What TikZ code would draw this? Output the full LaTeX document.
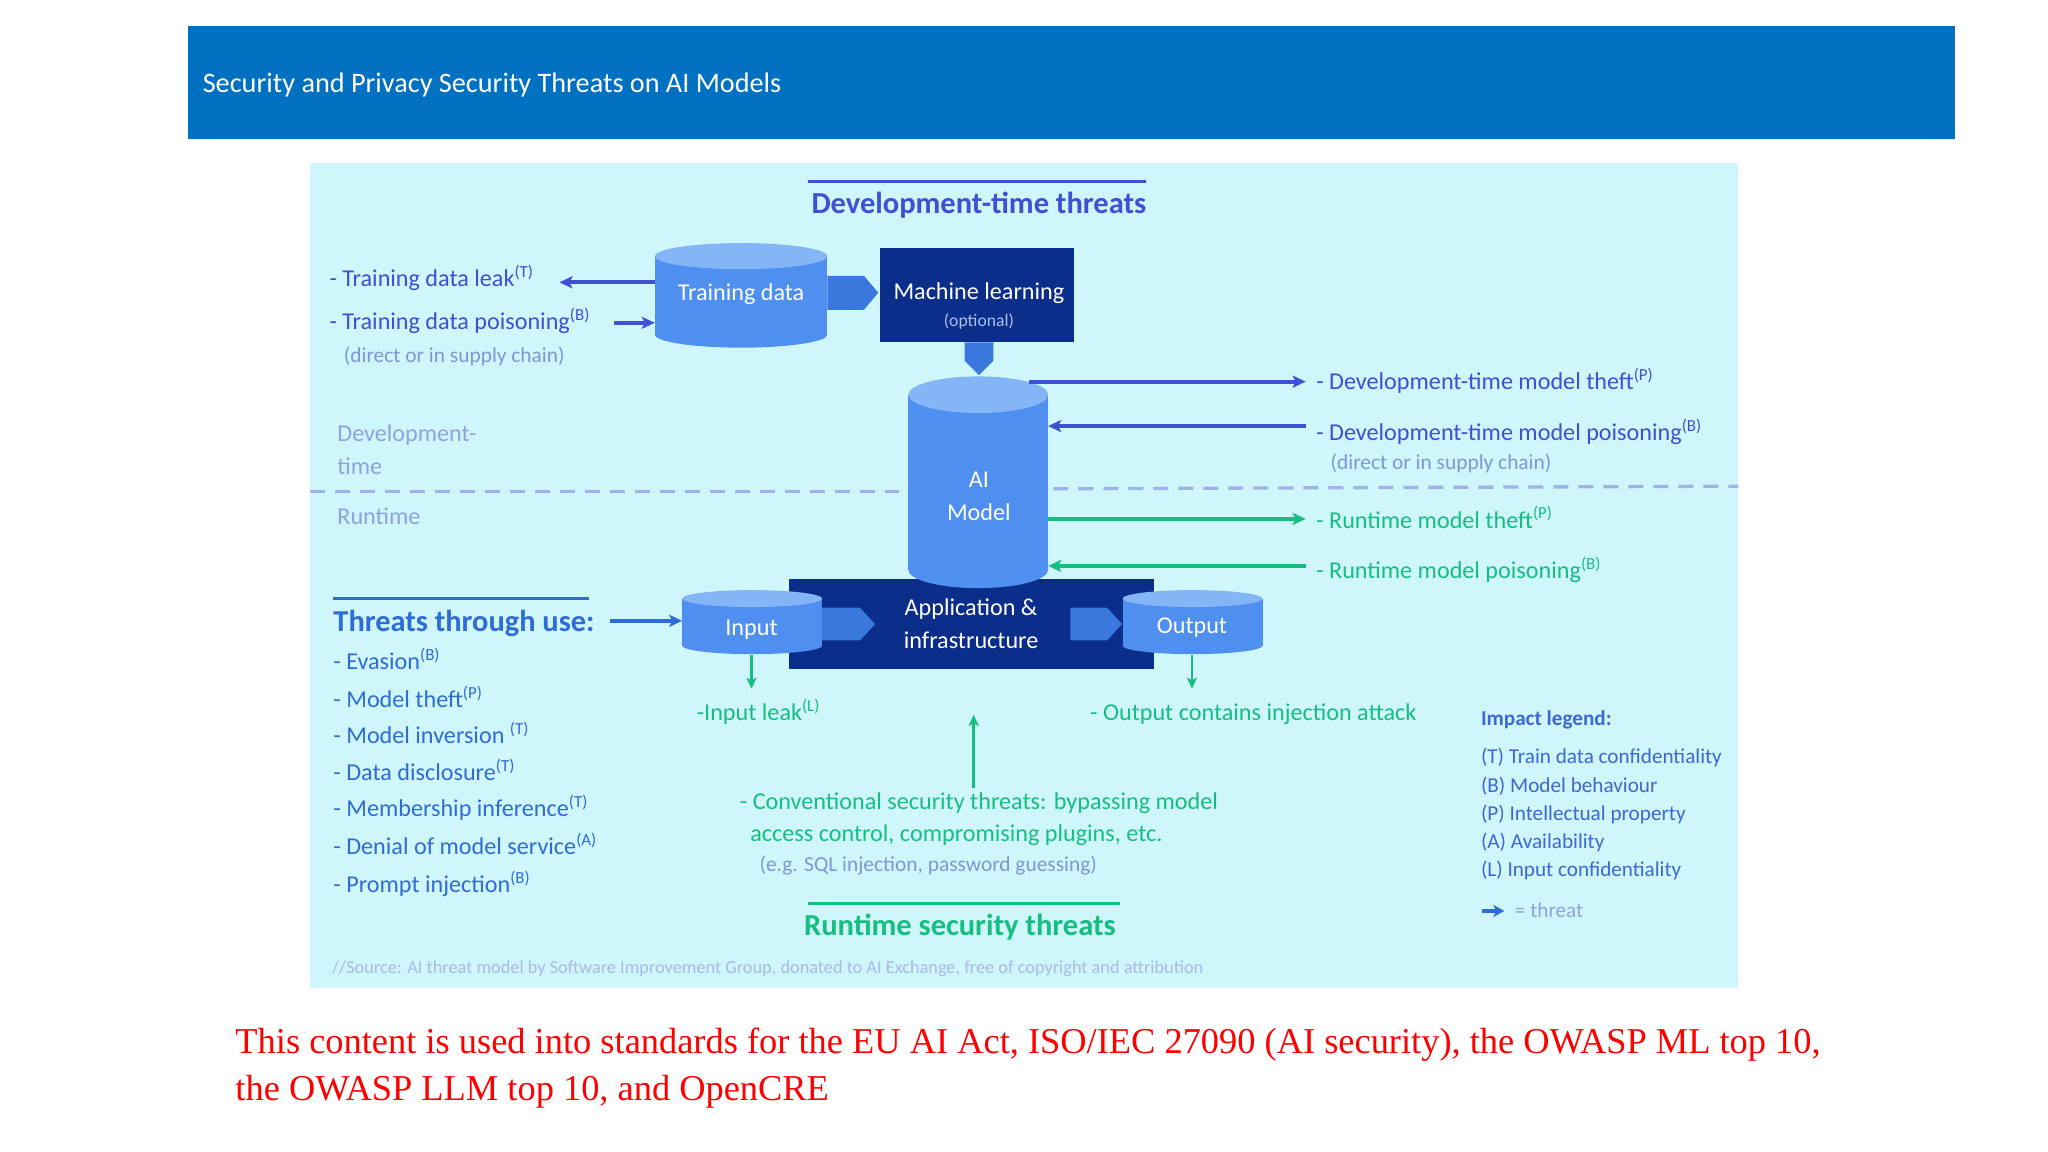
\documentclass[tikz,border=0pt]{standalone}
\usepackage{fontspec}
\setmainfont{Carlito}
\newfontfamily\redserif{Liberation Serif}
\usetikzlibrary{arrows.meta}
\definecolor{hdr}{RGB}{0,112,192}
\definecolor{panel}{RGB}{206,246,251}
\definecolor{cylbody}{RGB}{78,143,240}
\definecolor{cyltop}{RGB}{132,181,247}
\definecolor{chev}{RGB}{58,120,222}
\definecolor{navy}{RGB}{11,46,138}
\definecolor{devblue}{RGB}{62,80,212}
\definecolor{rgreen}{RGB}{22,190,128}
\definecolor{midblue}{RGB}{48,108,214}
\definecolor{grayblue}{RGB}{128,150,218}
\definecolor{lightlbl}{RGB}{142,163,224}
\definecolor{dashc}{RGB}{158,180,232}
\definecolor{srcc}{RGB}{168,186,236}
\definecolor{legc}{RGB}{62,104,212}
\definecolor{optc}{RGB}{170,190,240}
\newcommand\fsz[1]{\fontsize{#1pt}{#1pt}\selectfont}
\newcommand\cylshape[6]{%
  \fill[cylbody] (#1,#3) rectangle (#2,#4);
  \fill[cylbody] ({(#1+#2)/2},#4) ellipse ({(#2-#1)/2} and #5);
  \fill[cyltop] ({(#1+#2)/2},#3) ellipse ({(#2-#1)/2} and #5);
  \path ({(#1+#2)/2},{(#3+#4)/2}) node[inner sep=0pt,minimum width={(#2-#1)*1.30695pt},minimum height={(#4-#3)*1.30695pt}] (#6) {};}
\begin{document}
\begin{tikzpicture}[x=1.30695pt,y=-1.30695pt,
  lbl/.style={anchor=base west,inner sep=0pt,font=\fsz{24.17}},
  ttl/.style={anchor=base,inner sep=0pt,font=\bfseries\fsz{30.5}},
  thr/.style={-{Stealth[length=13pt,width=12pt,inset=3pt]},line width=3.9pt},
  thrs/.style={-{Stealth[length=11pt,width=10pt,inset=2.5pt]},line width=2.8pt},
  navybox/.style={fill=navy,inner sep=0pt},
  chevron/.style={fill=chev},
  wtxt/.style={anchor=base,inner sep=0pt,text=white,font=\fsz{24.17}}]
\useasboundingbox (0,0) rectangle (1567,881.4);
\fill[white] (0,0) rectangle (1567,881.4);
% header
\fill[hdr] (144,20) rectangle (1496,106);
\node[anchor=base west,inner sep=0pt,text=white,font=\fsz{28.23}] (title) at (155,71) {Security and Privacy Security Threats on AI Models};
% panel
\fill[panel] (237,125) rectangle (1330,756);
% dashed separator
\draw[dashc,line width=3.3pt,dash pattern=on 15pt off 10pt] (237,376) -- (688,376);
\draw[dashc,line width=3.3pt,dash pattern=on 15pt off 10pt] (806,374) -- (1330,372);
% titles
\draw[devblue,line width=2.8pt] (618,139) -- (877,139);
\node[ttl,text=devblue] (devttl) at (749,163) {Development-time threats};
\draw[rgreen,line width=2.8pt] (618,691) -- (857,691);
\node[ttl,text=rgreen] (runttl) at (734.5,716) {Runtime security threats};
% navy boxes
\node[navybox,minimum width={149*1.30695pt},minimum height={72*1.30695pt}] (ml) at (747.5,226) {};
\node[navybox,minimum width={279*1.30695pt},minimum height={69*1.30695pt}] (app) at (743.5,477.5) {};
% chevrons
\fill[chevron] (633,211) -- (661,211) -- (672,224) -- (661,237) -- (633,237) -- cycle;
\fill[chevron] (738,262) -- (760,262) -- (760,276) -- (749,287) -- (738,276) -- cycle;
\fill[chevron] (628,465) -- (658,465) -- (669.5,477.5) -- (658,490) -- (628,490) -- cycle;
\fill[chevron] (819,465) -- (847,465) -- (858.5,477.5) -- (847,490) -- (819,490) -- cycle;
% cylinders
\cylshape{501}{633}{196}{256}{10}{td}
\cylshape{695}{802}{302}{436}{14}{aim}
\cylshape{522}{629}{458}{494}{6.5}{inp}
\cylshape{859}{966}{458}{494}{6.5}{outp}
% box texts
\node[wtxt] (tdt) at (567,230) {Training data};
\node[wtxt] (mlt) at (749,229) {Machine learning};
\node[anchor=base,inner sep=0pt,text=optc,font=\fsz{17.63}] (mlo) at (749,250) {(optional)};
\node[wtxt] (ait) at (749,373) {AI};
\node[wtxt] (aim2) at (749,398) {Model};
\node[wtxt] (appt) at (743,471) {Application \&};
\node[wtxt] (appt2) at (743,496) {infrastructure};
\node[wtxt] (inpt) at (575,486) {Input};
\node[wtxt] (outt) at (912,485) {Output};
% left dev labels
\node[lbl,text=devblue] (l1) at (252,219) {- Training data leak\textsuperscript{(T)}};
\node[lbl,text=devblue] (l2) at (252,252) {- Training data poisoning\textsuperscript{(B)}};
\node[lbl,text=grayblue,font=\fsz{21.39}] (l3) at (263,277) {(direct or in supply chain)};
\node[lbl,text=lightlbl] (dt1) at (258,338) {Development-};
\node[lbl,text=lightlbl] (dt2) at (258,363) {time};
\node[lbl,text=lightlbl] (rt) at (258,401) {Runtime};
% right labels
\node[lbl,text=devblue] (r1) at (1007,298) {- Development-time model theft\textsuperscript{(P)}};
\node[lbl,text=devblue] (r2) at (1007,337) {- Development-time model poisoning\textsuperscript{(B)}};
\node[lbl,text=grayblue,font=\fsz{21.39}] (r3) at (1018,359) {(direct or in supply chain)};
\node[lbl,text=rgreen] (r4) at (1007,404) {- Runtime model theft\textsuperscript{(P)}};
\node[lbl,text=rgreen] (r5) at (1007,443) {- Runtime model poisoning\textsuperscript{(B)}};
% threats through use
\draw[midblue,line width=2.8pt] (255,458) -- (451,458);
\node[lbl,text=midblue,font=\bfseries\fsz{30.4}] (ttu) at (255,483) {Threats through use:};
\node[lbl,text=midblue] (u1) at (255,512) {- Evasion\textsuperscript{(B)}};
\node[lbl,text=midblue] (u2) at (255,541) {- Model theft\textsuperscript{(P)}};
\node[lbl,text=midblue] (u3) at (255,569) {- Model inversion \textsuperscript{(T)}};
\node[lbl,text=midblue] (u4) at (255,597) {- Data disclosure\textsuperscript{(T)}};
\node[lbl,text=midblue] (u5) at (255,625) {- Membership inference\textsuperscript{(T)}};
\node[lbl,text=midblue] (u6) at (255,654) {- Denial of model service\textsuperscript{(A)}};
\node[lbl,text=midblue] (u7) at (255,683) {- Prompt injection\textsuperscript{(B)}};
% bottom runtime labels
\node[lbl,text=rgreen] (il) at (533,551) {-Input leak\textsuperscript{(L)}};
\node[lbl,text=rgreen] (oc) at (834,551) {- Output contains injection attack};
\node[lbl,text=rgreen] (cv1) at (566,619) {- Conventional security threats: bypassing model};
\node[lbl,text=rgreen] (cv2) at (574,644) {access control, compromising plugins, etc.};
\node[lbl,text=grayblue,font=\fsz{21.39}] (cv3) at (581,667) {(e.g. SQL injection, password guessing)};
% legend
\node[lbl,text=legc,font=\bfseries\fsz{21.19}] (lg0) at (1133,555) {Impact legend:};
\node[lbl,text=legc,font=\fsz{21.19}] (lg1) at (1133,584) {(T) Train data confidentiality};
\node[lbl,text=legc,font=\fsz{21.19}] (lg2) at (1133,606) {(B) Model behaviour};
\node[lbl,text=legc,font=\fsz{21.19}] (lg3) at (1133,628) {(P) Intellectual property};
\node[lbl,text=legc,font=\fsz{21.19}] (lg4) at (1133,649) {(A) Availability};
\node[lbl,text=legc,font=\fsz{21.19}] (lg5) at (1133,671) {(L) Input confidentiality};
\node[lbl,text=lightlbl,font=\fsz{21.19}] (lg6) at (1159,702) {= threat};
% source
\node[lbl,text=srcc,font=\fsz{18.3}] (src) at (254,745) {//Source: AI threat model by Software Improvement Group, donated to AI Exchange, free of copyright and attribution};
% red text
\node[anchor=base west,inner sep=0pt,text=red,font=\redserif\fsz{36.4}] (red1) at (180,806) {This content is used into standards for the EU AI Act, ISO/IEC 27090 (AI security), the OWASP ML top 10,};
\node[anchor=base west,inner sep=0pt,text=red,font=\redserif\fsz{36.4}] (red2) at (180,842) {the OWASP LLM top 10, and OpenCRE};
% arrow endpoints
\coordinate (a1s) at (501,216); \coordinate (a1e) at (428,216);
\coordinate (a2s) at (470,247); \coordinate (a2e) at (501,247);
\coordinate (a3s) at (787,292); \coordinate (a3e) at (999,292);
\coordinate (a4s) at (999,326); \coordinate (a4e) at (802,326);
\coordinate (a5s) at (802,397); \coordinate (a5e) at (999,397);
\coordinate (a6s) at (999,433); \coordinate (a6e) at (802,433);
\coordinate (a7s) at (467,475); \coordinate (a7e) at (522,475);
\coordinate (a8s) at (575,501); \coordinate (a8e) at (575,527);
\coordinate (a9s) at (912,501); \coordinate (a9e) at (912,527);
\coordinate (a10s) at (745,603); \coordinate (a10e) at (745,547);
\coordinate (a11s) at (1134,697); \coordinate (a11e) at (1151,697);
\draw[thr,devblue] (a1s) -- (a1e);
\draw[thr,devblue] (a2s) -- (a2e);
\draw[thr,devblue] (a3s) -- (a3e);
\draw[thr,devblue] (a4s) -- (a4e);
\draw[thr,rgreen] (a5s) -- (a5e);
\draw[thr,rgreen] (a6s) -- (a6e);
\draw[thr,midblue] (a7s) -- (a7e);
\draw[thrs,rgreen] (a8s) -- (a8e);
\draw[thrs,rgreen] (a9s) -- (a9e);
\draw[thrs,rgreen] (a10s) -- (a10e);
\draw[-{Stealth[length=11pt,width=12pt,inset=3pt]},line width=4.5pt,midblue] (a11s) -- (a11e);
\end{tikzpicture}
\end{document}
